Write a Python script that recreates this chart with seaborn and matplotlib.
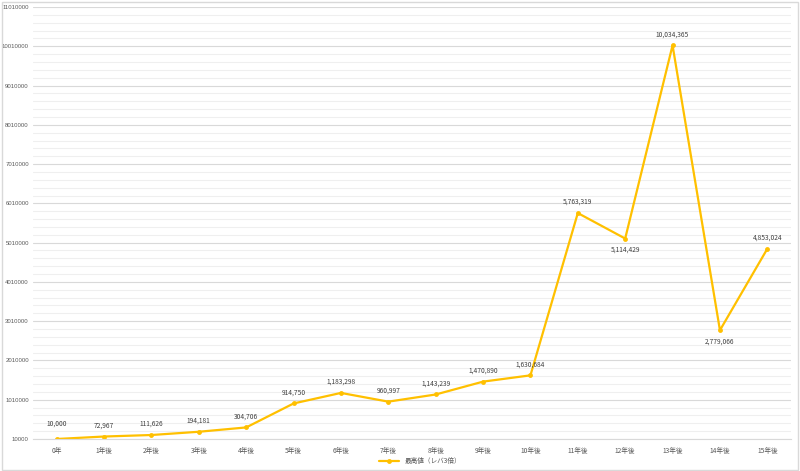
import matplotlib
matplotlib.use("Agg")
import matplotlib.pyplot as plt
from matplotlib.ticker import FuncFormatter
from matplotlib.patches import Rectangle
import seaborn as sns
import numpy as np

categories = ["0年", "1年後", "2年後", "3年後", "4年後", "5年後", "6年後", "7年後",
              "8年後", "9年後", "10年後", "11年後", "12年後", "13年後", "14年後", "15年後"]
values = [10000, 72967, 111626, 194181, 304706, 914750, 1183298, 960997,
          1143239, 1470890, 1630684, 5763319, 5114429, 10034365, 2779066, 4853024]
series_name = "最高値（レバ3倍）"
below_labels = [12, 14]

sns.set_theme(style="white")
plt.rcParams['font.family'] = ['Noto Sans CJK JP', 'DejaVu Sans']

fig = plt.figure(figsize=(8, 4.71), dpi=100)
ax = fig.add_axes([33/800, 1-439/471, (791-33)/800, (439-7)/471])

color = "#FFC000"
x = np.arange(len(categories))
sns.lineplot(x=x, y=values, ax=ax, color=color, linewidth=1.6, marker="o",
             markersize=3.5, markeredgewidth=0, label=series_name)

ymin, ymax = 10000, 11010000
ax.set_ylim(ymin, ymax)
ax.set_xlim(-0.5, len(categories) - 0.5)
major = np.arange(ymin, ymax + 1, 1000000)
minor = np.arange(ymin, ymax + 1, 200000)
ax.set_yticks(major)
ax.set_yticks(minor, minor=True)
ax.yaxis.set_major_formatter(FuncFormatter(lambda v, p: f"{int(round(v))}"))
ax.grid(which="minor", axis="y", color="#EFEFEF", linewidth=0.8)
ax.grid(which="major", axis="y", color="#D9D9D9", linewidth=0.8)
ax.set_axisbelow(True)
ax.set_xticks(x)
ax.set_xticklabels(categories)
ax.tick_params(axis="x", which="both", length=0, labelsize=4.8, colors="#595959", pad=6)
ax.tick_params(axis="y", which="both", length=0, labelsize=4.3, colors="#595959", pad=3)
for lab in ax.get_yticklabels():
    lab.set_family(['Liberation Sans Narrow', 'Liberation Sans', 'DejaVu Sans'])
for s in ax.spines.values():
    s.set_visible(False)
ax.spines["bottom"].set_visible(True)
ax.spines["bottom"].set_color("#D9D9D9")
ax.spines["bottom"].set_linewidth(0.8)

for i, v in enumerate(values):
    if i in below_labels:
        ax.annotate(f"{v:,}", (i, v), xytext=(0, -5), textcoords="offset points",
                    ha="center", va="top", fontsize=4.8, color="#404040")
    else:
        ax.annotate(f"{v:,}", (i, v), xytext=(0, 5 if i else 8), textcoords="offset points",
                    ha="center", va="bottom", fontsize=4.8, color="#404040")

leg = ax.legend(loc="center", bbox_to_anchor=((420 - 33) / 758, -22 / 432),
                frameon=False, fontsize=4.8, handlelength=3, labelcolor="#595959")

fig.patches.append(Rectangle((0.002, 0.003), 0.995, 0.993, transform=fig.transFigure,
                             fill=False, edgecolor="#D9D9D9", linewidth=1))
fig.savefig("out.png", dpi=100)
